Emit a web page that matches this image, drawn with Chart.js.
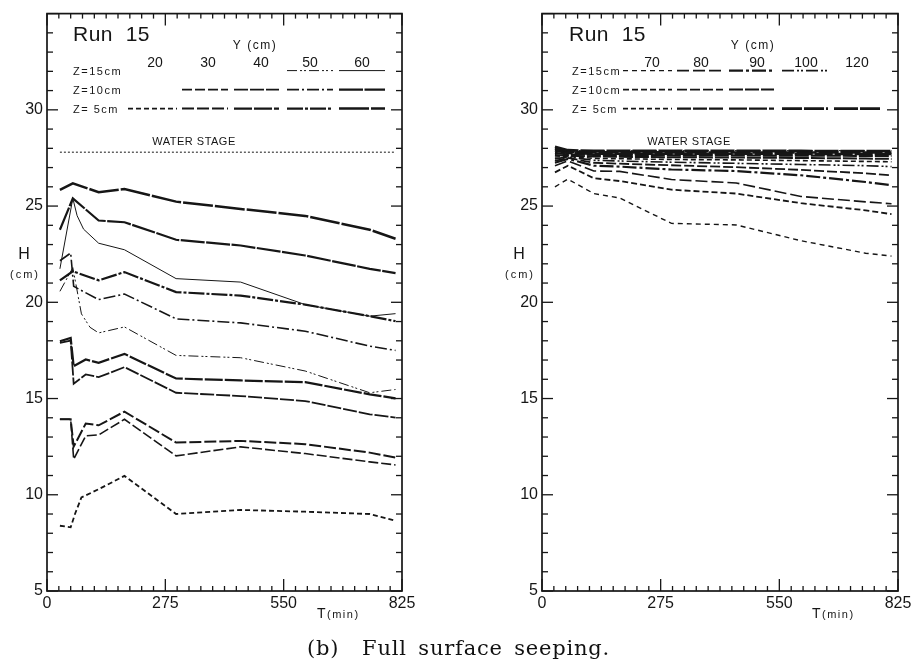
<!DOCTYPE html>
<html>
<head>
<meta charset="utf-8">
<script src="https://cdn.jsdelivr.net/npm/chart.js@4.4.1/dist/chart.umd.min.js"></script>
<style>
  body { margin: 0; background: #fff; width: 917px; height: 665px; position: relative; overflow: hidden; }
  canvas { position: absolute; top: 0; }
  #chartL { left: 0; }
  #chartR { left: 458px; }
  #caption { position: absolute; top: 636px; left: 0; width: 917px; text-align: center;
             font: 21px "DejaVu Serif", serif; letter-spacing: 0.8px; word-spacing: 4px; color: #111; }
</style>
</head>
<body>
<canvas id="chartL" width="458" height="665"></canvas>
<canvas id="chartR" width="459" height="665"></canvas>
<div id="caption">(b)&nbsp;&nbsp;Full surface seeping.</div>
<script>
// time points (min)
const tMain   = [30, 60, 120, 180, 300, 450, 600, 750, 810];
const tDip    = [30, 55, 62, 90, 120, 180, 300, 450, 600, 750, 810];
const tCurve3 = [30, 60, 70, 85, 120, 180, 300, 450, 600, 750, 810];
const tDrop5  = [30, 55, 62, 120, 180, 300, 450, 600, 750, 810];
const tCurve6 = [30, 60, 80, 100, 120, 180, 300, 450, 600, 750, 810];
const tShort  = [30, 55, 65, 80, 120, 180, 300, 450, 600, 750, 810];
const tStage  = [30, 810];

// left panel, H (cm)
const hL_z5_y60  = [25.84, 26.18, 25.72, 25.89, 25.23, 24.85, 24.49, 23.77, 23.30];
const hL_z10_y60 = [23.77, 25.40, 24.25, 24.16, 23.25, 22.95, 22.43, 21.74, 21.52];
const hL_z15_y60 = [21.74, 25.40, 24.50, 23.80, 23.07, 22.73, 21.23, 21.05, 19.88, 19.28, 19.41];
const hL_z5_y50  = [21.14, 21.61, 21.14, 21.57, 20.53, 20.35, 19.88, 19.28, 19.02];
const hL_z10_y50 = [22.16, 22.56, 20.83, 20.14, 20.43, 19.14, 18.93, 18.50, 17.72, 17.50];
const hL_z15_y50 = [20.57, 21.80, 19.40, 18.70, 18.41, 18.72, 17.24, 17.12, 16.43, 15.30, 15.47];
const hL_z5_y40  = [17.98, 18.15, 16.68, 17.03, 16.86, 17.32, 16.04, 15.94, 15.85, 15.22, 15.01];
const hL_z10_y40 = [17.89, 18.01, 15.77, 16.25, 16.11, 16.63, 15.30, 15.13, 14.87, 14.18, 14.01];
const hL_z5_y30  = [13.92, 13.92, 12.50, 13.70, 13.61, 14.32, 12.71, 12.80, 12.63, 12.19, 11.93];
const hL_z10_y30 = [13.92, 13.92, 11.85, 13.06, 13.11, 13.92, 12.02, 12.49, 12.14, 11.71, 11.55];
const hL_z5_y20  = [8.39, 8.31, 9.00, 9.86, 10.29, 10.98, 9.00, 9.21, 9.12, 9.00, 8.65];
const hL_stage   = [27.8, 27.8];

// right panel, H (cm)
const hR_z15_y70  = [26.00, 26.40, 25.65, 25.42, 24.10, 24.02, 23.20, 22.55, 22.40];
const hR_z10_y70  = [26.75, 27.10, 26.45, 26.30, 25.85, 25.65, 25.15, 24.78, 24.58];
const hR_z15_y80  = [27.10, 27.35, 26.82, 26.80, 26.38, 26.20, 25.50, 25.22, 25.12];
const hR_z15_y90  = [27.25, 27.45, 27.10, 27.05, 26.90, 26.82, 26.60, 26.25, 26.08];
const hR_z10_y80  = [27.35, 27.50, 27.25, 27.20, 27.12, 27.02, 26.88, 26.70, 26.60];
const hR_z15_y100 = [27.45, 27.55, 27.38, 27.34, 27.28, 27.22, 27.16, 27.10, 27.05];
const hR_z5_y70   = [27.55, 27.58, 27.48, 27.46, 27.42, 27.40, 27.36, 27.32, 27.30];
const hR_z10_y90  = [27.65, 27.62, 27.58, 27.56, 27.54, 27.52, 27.50, 27.47, 27.45];
const hR_z5_y80   = [27.76, 27.68, 27.66, 27.65, 27.64, 27.63, 27.62, 27.61, 27.60];
const hR_z5_y90   = [27.88, 27.75, 27.72, 27.72, 27.72, 27.71, 27.71, 27.70, 27.70];
const hR_z5_y100  = [27.98, 27.82, 27.79, 27.79, 27.79, 27.78, 27.78, 27.78, 27.78];
const hR_z5_y120  = [28.08, 27.90, 27.86, 27.86, 27.86, 27.86, 27.86, 27.85, 27.85];
const hR_stage    = [27.88, 27.88];

const colsL = ['20', '30', '40', '50', '60'];
const colsR = ['70', '80', '90', '100', '120'];
const rowLabels = ['Z=15cm', 'Z=10cm', 'Z= 5cm'];
const xTicks = [0, 275, 550, 825];

const INK = '#161616';
const LABEL_FONT = '"Liberation Sans", Arial, sans-serif';

// row: 0 -> Z=15, 1 -> Z=10, 2 -> Z=5 ; col: index in the Y list
function series(times, vals, dash, width, row, col) {
  return {
    data: times.map((t, i) => ({ x: t, y: vals[i] })),
    borderColor: INK, borderWidth: width, borderDash: dash,
    pointRadius: 0, fill: false, tension: 0,
    zRow: row, yCol: col
  };
}

function line(ctx, x1, y1, x2, y2) {
  ctx.beginPath(); ctx.moveTo(x1, y1); ctx.lineTo(x2, y2); ctx.stroke();
}

const panelDecor = {
  id: 'panelDecor',
  afterDatasetsDraw(chart, args, o) {
    const { ctx, chartArea: a, scales: { x, y } } = chart;
    ctx.save();
    ctx.strokeStyle = INK; ctx.fillStyle = INK;
    ctx.setLineDash([]);
    ctx.lineWidth = 1.7;
    ctx.strokeRect(a.left, a.top, a.right - a.left, a.bottom - a.top);

    // inward ticks
    ctx.lineWidth = 1.3;
    for (let i = 0; i <= 30; i++) {
      const px = x.getPixelForValue(i * 27.5);
      const len = (i % 10 === 0) ? 12 : 5;
      line(ctx, px, a.bottom, px, a.bottom - len);
      line(ctx, px, a.top, px, a.top + len);
    }
    for (let h = 5; h <= 35; h++) {
      const py = y.getPixelForValue(h);
      const len = (h % 5 === 0) ? 11 : 6;
      line(ctx, a.left, py, a.left + len, py);
      line(ctx, a.right, py, a.right - len, py);
    }

    // axis titles
    ctx.textAlign = 'center'; ctx.textBaseline = 'alphabetic';
    ctx.font = '16px ' + LABEL_FONT;
    ctx.fillText('H', a.left - 23, a.top + 245);
    ctx.font = '11px ' + LABEL_FONT;
    ctx.letterSpacing = '2px';
    ctx.fillText('(cm)', a.left - 22, a.top + 264);
    ctx.textAlign = 'left';
    ctx.font = '14px ' + LABEL_FONT;
    ctx.letterSpacing = '1px';
    ctx.fillText('T', a.left + 270, a.bottom + 27);
    ctx.font = '11px ' + LABEL_FONT;
    ctx.letterSpacing = '1.5px';
    ctx.fillText('(min)', a.left + 280, a.bottom + 27);

    // header
    ctx.letterSpacing = '0.5px';
    ctx.font = '21px ' + LABEL_FONT;
    ctx.fillText('Run  15', a.left + o.runX, a.top + 27);
    ctx.textAlign = 'center';
    ctx.font = '12px ' + LABEL_FONT;
    ctx.letterSpacing = '1.5px';
    ctx.fillText('Y (cm)', a.left + o.ycmX, a.top + 35);
    ctx.letterSpacing = '0px';
    ctx.font = '14px ' + LABEL_FONT;
    o.cols.forEach((c, i) => ctx.fillText(c, a.left + o.colX[i], a.top + 53));
    ctx.textAlign = 'left';
    ctx.font = '11px ' + LABEL_FONT;
    ctx.letterSpacing = '1.5px';
    rowLabels.forEach((r, i) => ctx.fillText(r, a.left + o.rowX, a.top + 61 + i * 19));
    ctx.letterSpacing = '0.5px';
    ctx.textAlign = 'center';
    ctx.fillText('WATER STAGE', a.left + 147, a.top + 131);
    ctx.letterSpacing = '0px';

    // legend samples, styled like their datasets
    const seg = [[81, 130], [135, 181], [187, 232], [240, 286], [292, 338]];
    chart.data.datasets.forEach(ds => {
      if (ds.zRow === undefined) return;
      const yy = a.top + 57 + ds.zRow * 19;
      const s = seg[ds.yCol];
      ctx.setLineDash(ds.borderDash || []);
      ctx.lineWidth = ds.borderWidth;
      line(ctx, a.left + s[0], yy, a.left + s[1], yy);
    });
    ctx.restore();
  }
};

function makeChart(id, datasets, pad, decor) {
  return new Chart(document.getElementById(id), {
    type: 'line',
    data: { datasets },
    options: {
      responsive: false, animation: false,
      layout: { padding: pad },
      plugins: { legend: { display: false }, tooltip: { enabled: false }, panelDecor: decor },
      scales: {
        x: {
          type: 'linear', min: 0, max: 825,
          afterBuildTicks: s => { s.ticks = xTicks.map(v => ({ value: v })); },
          afterFit: s => { s.height = 30; },
          grid: { display: false, drawTicks: false }, border: { display: false },
          ticks: { color: INK, padding: 3, maxRotation: 0, font: { family: LABEL_FONT, size: 16 } }
        },
        y: {
          type: 'linear', min: 5, max: 35,
          afterFit: s => { s.width = 34; },
          grid: { display: false, drawTicks: false }, border: { display: false },
          ticks: { color: INK, padding: 4, stepSize: 5, font: { family: LABEL_FONT, size: 16 },
                   callback: v => (v === 35 ? '' : v) }
        }
      }
    },
    plugins: [panelDecor]
  });
}

makeChart('chartL', [
  series(tStage, hL_stage, [2, 2], 1),
  series(tMain, hL_z5_y60, [30, 2], 2.5, 2, 4),
  series(tMain, hL_z10_y60, [24, 1.5], 2.2, 1, 4),
  series(tCurve3, hL_z15_y60, [], 1, 0, 4),
  series(tMain, hL_z5_y50, [16, 2, 3, 2], 2.2, 2, 3),
  series(tDrop5, hL_z10_y50, [12, 3, 2, 3], 1.6, 1, 3),
  series(tCurve6, hL_z15_y50, [10, 3, 2, 2, 2, 3], 1, 0, 3),
  series(tDip, hL_z5_y40, [18, 2], 2.2, 2, 2),
  series(tDip, hL_z10_y40, [14, 2], 1.8, 1, 2),
  series(tDip, hL_z5_y30, [12, 3], 2, 2, 1),
  series(tDip, hL_z10_y30, [10, 3], 1.6, 1, 1),
  series(tShort, hL_z5_y20, [5, 3], 1.8, 2, 0)
], { left: 13, top: 13, right: 56, bottom: 44 },
   { runX: 26, ycmX: 208, rowX: 26, cols: colsL, colX: [108, 161, 214, 263, 315] });

makeChart('chartR', [
  series(tStage, hR_stage, [2, 2], 1),
  series(tMain, hR_z15_y70, [5, 4], 1.4, 0, 0),
  series(tMain, hR_z10_y70, [6, 3], 1.8, 1, 0),
  series(tMain, hR_z15_y80, [12, 4], 1.6, 0, 1),
  series(tMain, hR_z15_y90, [14, 3, 3, 3], 2.2, 0, 2),
  series(tMain, hR_z10_y80, [10, 3], 1.8, 1, 1),
  series(tMain, hR_z15_y100, [12, 3, 2, 2, 2, 3], 1.6, 0, 3),
  series(tMain, hR_z5_y70, [5, 3], 1.6, 2, 0),
  series(tMain, hR_z10_y90, [14, 2], 2, 1, 2),
  series(tMain, hR_z5_y80, [14, 2], 2.2, 2, 1),
  series(tMain, hR_z5_y90, [18, 2], 2.4, 2, 2),
  series(tMain, hR_z5_y100, [20, 2], 2.6, 2, 3),
  series(tMain, hR_z5_y120, [24, 2], 2.8, 2, 4)
], { left: 50, top: 13, right: 19, bottom: 44 },
   { runX: 27, ycmX: 211, rowX: 30, cols: colsR, colX: [110, 159, 215, 264, 315] });
</script>
</body>
</html>
